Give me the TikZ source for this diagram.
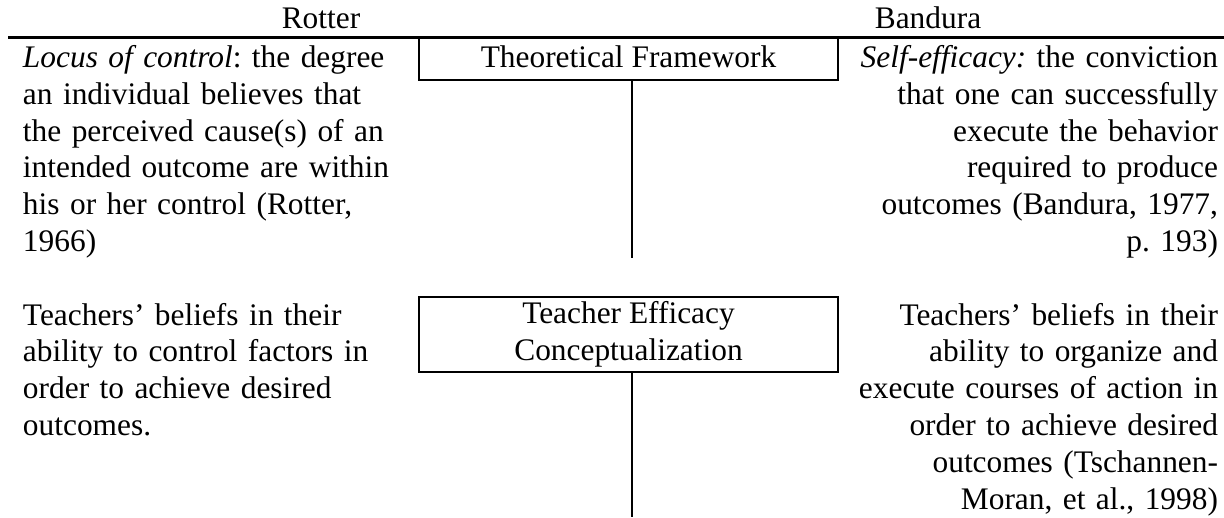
\documentclass[tikz,border=0pt]{standalone}
\usepackage{fontspec}
\setmainfont{Liberation Serif}
\begin{document}
\frenchspacing
\begin{tikzpicture}[x=0.38235pt,y=-0.38235pt,
  every node/.style={inner sep=0pt, outer sep=0pt, font=\fontsize{12}{14.07}\selectfont\frenchspacing},
  lefttext/.style={anchor=base west, text width=150pt, align=left},
  righttext/.style={anchor=base east, text width=150pt, align=right},
  headtext/.style={anchor=base},
  framebox/.style={draw, line width=0.8pt, minimum width=160.2pt, align=center, anchor=north west},
  toprule/.style={line width=1pt},
  stem/.style={line width=0.8pt}]
\useasboundingbox (0,0) rectangle (1224,517);
% header
\node[headtext] (rotter) at (321,28) {Rotter};
\node[headtext] (bandura) at (928,28) {Bandura};
\coordinate (ruleL) at (8,37.5);
\coordinate (ruleR) at (1224,37.5);
\draw[toprule] (ruleL) -- (ruleR);
% row 1
\node[lefttext] (loc) at (23,67.5) {\textit{Locus of control}: the degree\\
an individual believes that\\
the perceived cause(s) of an\\
intended outcome are within\\
his or her control (Rotter,\\
1966)};
\node[framebox, minimum height=16.25pt, text height=8.5pt, text depth=1.8pt] (tf) at (419,37.5) {Theoretical Framework};
\node[righttext] (self) at (1218,67.5) {\textit{Self-efficacy:} the conviction\\
that one can successfully\\
execute the behavior\\
required to produce\\
outcomes (Bandura, 1977,\\
p. 193)};
\coordinate (s1) at (632,258);
\draw[stem] (tf.south -| s1) -- (s1);
% row 2
\node[lefttext] (tbl) at (23,325) {Teachers’ beliefs in their\\
ability to control factors in\\
order to achieve desired\\
outcomes.};
\node[framebox, minimum height=28.68pt] (tec) at (419,297) {Teacher Efficacy\\Conceptualization};
\node[righttext] (tbr) at (1218,325) {Teachers’ beliefs in their\\
ability to organize and\\
execute courses of action in\\
order to achieve desired\\
outcomes (Tschannen-\\
Moran, et al., 1998)};
\coordinate (s2) at (632,517);
\draw[stem] (tec.south -| s2) -- (s2);
\end{tikzpicture}
\end{document}
